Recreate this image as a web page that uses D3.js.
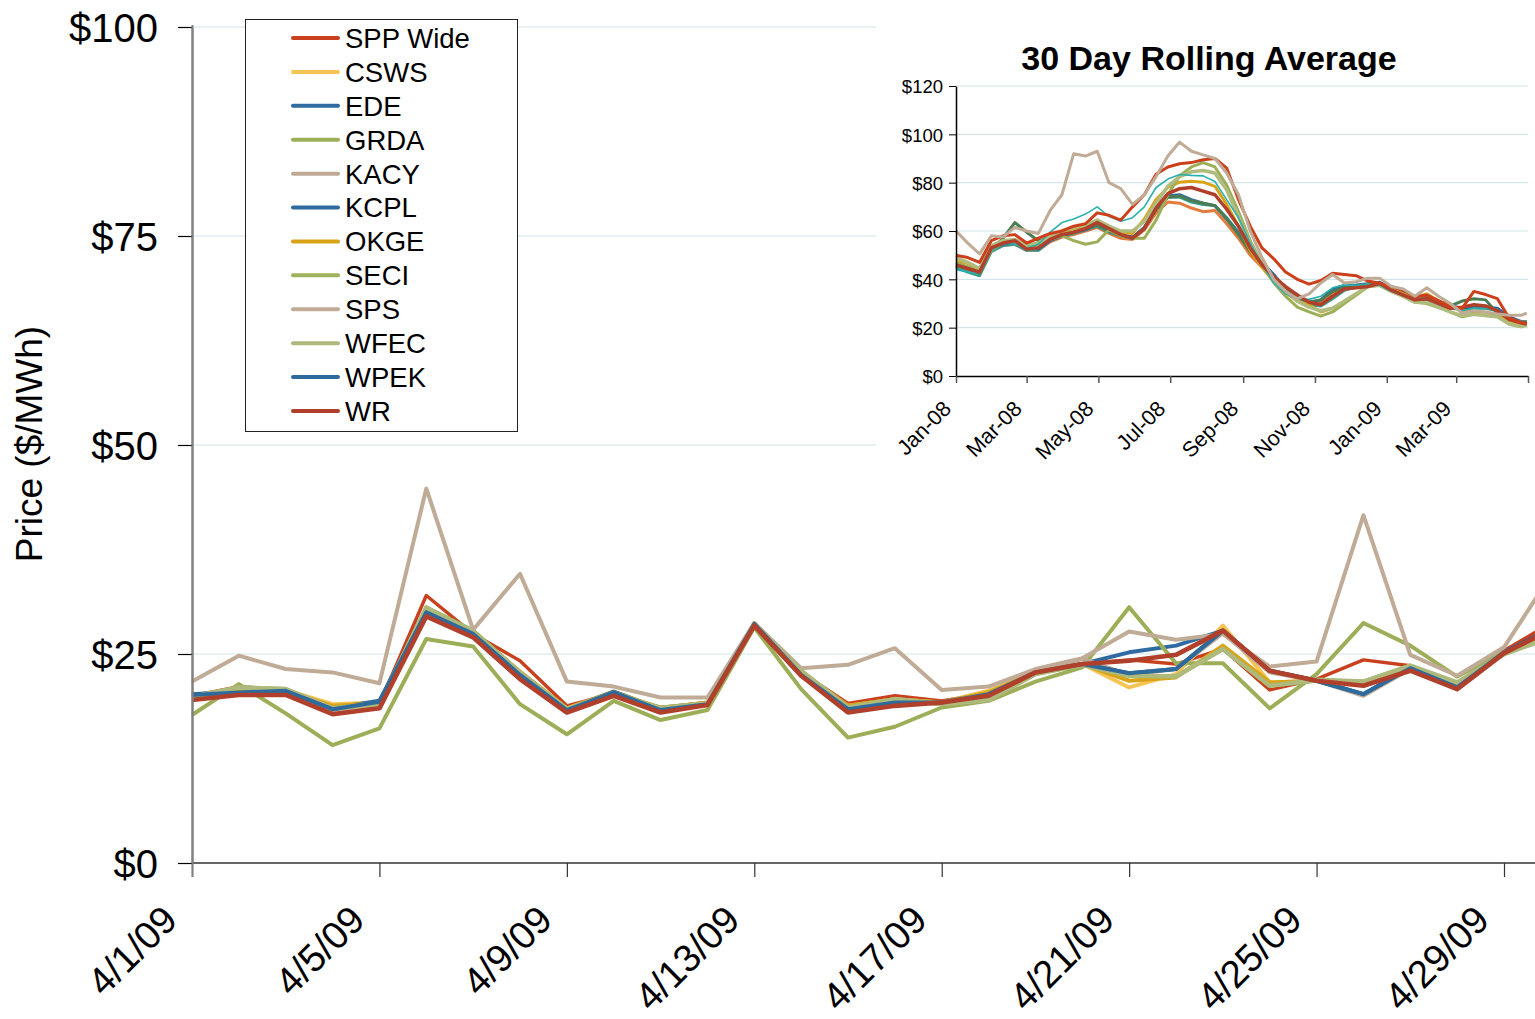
<!DOCTYPE html>
<html><head><meta charset="utf-8">
<script src="https://cdn.jsdelivr.net/npm/d3@7"></script>
<style>
body{margin:0;background:#fff}
svg{display:block}
text{font-family:"Liberation Sans",Arial,Helvetica,sans-serif;fill:#000}
</style>
</head><body>
<svg id="c" width="1535" height="1019"></svg>
<script>
// ---------------- MAIN CHART DATA (April 2009, daily $/MWh) ----------------
const aprilDays = [1,2,3,4,5,6,7,8,9,10,11,12,13,14,15,16,17,18,19,20,21,22,23,24,25,26,27,28,29,30];
const seriesNames = ["SPP Wide","CSWS","EDE","GRDA","KACY","KCPL","OKGE","SECI","SPS","WFEC","WPEK","WR"];
const seriesColors = ["#c8401d","#f6c453","#2f6ba0","#9cae57","#bda994","#2e6a9d","#d9a318","#a0b15c","#bfab96","#aeba7c","#2f6a9c","#b0402b"];
const sppWide = [20.0,21.1,20.7,18.4,19.0,32.0,27.4,24.2,18.8,20.3,18.6,19.2,28.6,22.8,19.1,20.0,19.4,20.3,22.9,23.8,24.3,23.8,25.6,20.7,22.0,24.3,23.6,21.0,25.4,28.7];
const csws    = [19.9,20.9,20.7,19.0,19.2,30.0,27.6,22.8,18.5,20.5,18.5,19.2,28.7,22.8,18.8,19.6,19.2,20.6,22.8,23.8,21.0,22.6,28.4,21.6,21.8,21.4,23.4,21.1,25.2,27.5];
const ede     = [20.2,20.5,20.6,18.5,19.4,30.2,27.5,22.6,18.4,20.5,18.4,19.1,28.6,22.6,18.5,19.4,19.2,20.3,22.8,23.8,25.2,26.0,27.8,23.0,21.8,20.2,23.4,21.0,25.2,28.0];
const grda    = [17.7,21.4,17.9,14.1,16.1,26.8,25.9,19.0,15.4,19.4,17.1,18.3,28.2,20.8,15.0,16.3,18.6,19.4,21.7,23.4,30.6,23.9,23.9,18.5,22.6,28.7,26.0,22.3,25.2,27.0];
const kacy    = [19.6,20.4,20.5,18.0,18.8,30.0,27.2,22.2,18.1,20.1,18.2,19.0,28.5,22.5,18.3,19.1,19.2,20.0,23.0,24.4,22.5,23.2,27.5,22.8,21.8,20.0,23.2,20.8,25.0,27.6];
const kcpl    = [20.1,20.5,20.6,18.4,19.3,30.1,27.4,22.5,18.3,20.4,18.3,19.0,28.6,22.6,18.4,19.3,19.2,20.3,22.8,23.8,22.7,23.2,27.8,23.0,21.8,20.2,23.4,21.0,25.2,28.0];
const okge    = [19.9,20.8,20.6,18.8,19.1,30.0,27.6,22.9,18.5,20.4,18.5,19.2,28.7,22.9,18.8,19.6,19.2,20.4,22.8,23.8,21.8,22.2,26.0,21.6,21.8,21.4,23.4,21.1,25.2,27.5];
const seci    = [19.8,21.0,20.8,18.5,19.0,30.6,27.8,22.8,18.4,20.3,18.6,19.1,28.5,23.0,18.6,19.6,19.0,19.5,22.6,23.7,22.4,22.3,25.6,21.2,21.8,21.7,23.6,21.5,25.0,27.0];
const sps     = [21.7,24.8,23.2,22.8,21.5,44.8,27.9,34.6,21.7,21.1,19.8,19.8,28.7,23.3,23.7,25.7,20.7,21.1,23.2,24.5,27.7,26.7,27.4,23.5,24.1,41.6,24.9,22.4,25.8,34.4];
const wfec    = [19.9,21.0,20.8,18.5,19.0,30.5,27.6,22.8,18.4,20.3,18.5,19.1,28.5,23.0,18.6,19.6,19.0,19.5,22.6,23.7,22.4,22.3,25.6,21.2,21.9,21.7,23.6,21.6,25.0,27.0];
const wpek    = [20.1,20.4,20.6,18.4,19.3,30.0,27.4,22.5,18.3,20.4,18.3,19.0,28.6,22.5,18.4,19.2,19.2,20.2,22.8,23.8,22.7,23.2,27.8,23.0,21.8,20.2,23.3,21.0,25.2,28.0];
const wr      = [19.5,20.1,20.1,17.8,18.5,29.5,27.0,22.0,18.0,20.0,18.0,18.9,28.4,22.4,18.0,18.8,19.2,20.0,22.8,23.8,24.2,24.9,27.8,23.0,21.8,21.2,23.0,20.8,25.1,27.9];
const seriesValues = [sppWide,csws,ede,grda,kacy,kcpl,okge,seci,sps,wfec,wpek,wr];
const mainYTicks = [0,25,50,75,100];
const mainXTickDays = [1,5,9,13,17,21,25,29];
const mainXTickLabels = ["4/1/09","4/5/09","4/9/09","4/13/09","4/17/09","4/21/09","4/25/09","4/29/09"];

// ---------------- INSET DATA (30 day rolling average, sampled every 10 days) ----------------
const rollDates = ["2008-01-01","2008-01-11","2008-01-21","2008-01-31","2008-02-10","2008-02-20","2008-03-01","2008-03-11","2008-03-21","2008-03-31",
"2008-04-10","2008-04-20","2008-04-30","2008-05-10","2008-05-20","2008-05-30","2008-06-09","2008-06-19","2008-06-29","2008-07-09",
"2008-07-19","2008-07-29","2008-08-08","2008-08-18","2008-08-28","2008-09-07","2008-09-17","2008-09-27","2008-10-07","2008-10-17",
"2008-10-27","2008-11-06","2008-11-16","2008-11-26","2008-12-06","2008-12-16","2008-12-26","2009-01-05","2009-01-15","2009-01-25",
"2009-02-04","2009-02-14","2009-02-24","2009-03-06","2009-03-16","2009-03-26","2009-04-05","2009-04-15","2009-04-25","2009-04-30"];
const rollOrange = [45.5,44,42,52,54,54.5,52,52,55.5,57.5,58.5,60,61.5,59,57,56.5,60.5,67.5,72,71.5,69.5,68,68.5,63,57,50,45,40,35,31.5,29.5,30.5,34.5,36.5,37,37.5,38,35.5,33.5,31.5,32,30,28.5,27.5,28.5,28,27.5,23.5,22,21.8];
const rollSeaGreen = [45,43,41.5,51.5,54,54.5,52,52,56,58,59,60.5,62,59.5,58,57,61.5,69,74,74,72,71,70.5,65.5,59.5,52.5,47,41.5,35.5,31,29.5,29,32,35.5,37,37.5,38.4,35.5,33.5,31,31.5,29.5,28,27.5,28,28,27,23,22,22];
const rollBlue = [46.5,45,43.5,52.5,54.5,55,53,52.5,56,58,59.5,60.5,62.5,60,58.5,57.5,61.5,69,74.5,75,73,71.5,70.5,65,59,52,47,42,36,32.5,30.5,31.5,36,37.5,37.7,38.2,38.8,36.5,34.5,32.8,33,31,29.4,27.8,29,28.4,28,24.5,22.6,22.3];
const rollDarkGreen = [46,44.5,42.5,52.5,57,63.5,59.5,56,57,58.5,59.5,61,62.5,60,58,57,61,69,74,74.5,72.5,71.5,70.5,65,58.5,51.5,46,41,35.5,32,30.5,31.5,35,36.5,37,38,38.4,36,34,32,32.5,30.5,29,31,32,31.5,26,23.5,22.5,22.3];
const rollGold = [48,46.5,44,53.5,56,56,53.5,54.5,57.5,59.5,61,62,64,61.5,59.5,59,65,73,78,80.2,80.6,80.2,78.5,71,62,52,45,39,34.5,31,29.5,26.5,28,30.5,33.5,37,38,36,34,32.5,34,31,29,27,26.5,26.4,25.3,23,21.5,21.5];
const rollOlive = [47,45,43,52,55,55.5,53,54,56.5,58,56,54.5,55.5,60.5,58,57,57,64.5,75,82.8,86.5,88.3,86.5,79,68,56,46.5,38.6,33,28.5,26.5,24.8,26.5,30,33.5,37,37.5,35,33,30.5,30,28.3,26.5,24.5,25.5,25,24.5,21.5,20.4,21.2];
const rollLightOlive = [49,47,44.5,54,56,56.5,54,55,58,60,61.5,62.5,64.5,62,60,60,64,71.5,78.5,82.5,84.5,85,84,77,66,55,46.5,39.5,35,31,28.5,27,28,31,34,37,37.5,35,33,30.5,30.5,28.5,26.5,25,25.5,25,24.5,21.5,20.5,21];
const rollTeal = [44,43,42.5,52,55,54.5,53,54.5,59.5,63.5,65,67,70,66,64,65.5,70,78,81.5,83.4,83,82.8,80.5,73,65.5,55,46,38.5,34,32,31.7,33,36.5,37.7,37.5,38,37.5,35,33.5,32,32.5,30.5,28.5,27,28,28,27.5,23.5,22.5,22];
const rollBrick = [46,44.5,43,53,55,56,52.5,53,56.5,58.5,59.5,61,63.5,61,58.5,57,61,69.5,75.5,77.5,78,76.5,75,69,62,53,46,41,37,33.5,30.5,29.5,33,36,36.5,37,38.4,35.5,33.5,31.5,32,30,28,28.5,29.5,29,27,23.5,22,21.5];
const rollRed = [50,49,47,56,58,58.5,55,57,59,60,62,63,67.5,66.5,64.5,70,75,83.5,86.5,87.8,88.3,89.5,90,86,73,62,53,48.5,43,40,38,39.5,42.5,42,41.5,39.3,38.4,37,35.5,32.8,33.5,31.2,28.5,28,35,33.7,32,24,22.2,21.7];
const rollTan = [60,55,50.5,58,57.5,61.5,60,59,68.5,75,92,91,93,80,77.5,71,75,82.5,91,96.8,93,91.5,90,84,75,60,49,40,35,32,34,38.5,42,38.5,39,40.5,40.5,37,36,33,36.5,33,30,26,27,26.5,25.7,25.1,25.1,26];
const rollSeries = [rollOrange,rollSeaGreen,rollBlue,rollDarkGreen,rollGold,rollOlive,rollLightOlive,rollTeal,rollBrick,rollRed,rollTan];
const rollColors = ["#e27b3c","#3d9e8e","#2f6ba0","#4a7d52","#d9a318","#9cae57","#afbc7e","#2bb0ad","#b0402b","#cc3f1a","#bfab96"];
const rollWidths = [3,3,3,3,3,3,3.5,1.6,3.5,3,3];
const insetYTicks = [0,20,40,60,80,100,120];
const insetXTickDates = ["2008-01-01","2008-03-01","2008-05-01","2008-07-01","2008-09-01","2008-11-01","2009-01-01","2009-03-01","2009-05-01"];
const insetXTickLabels = ["Jan-08","Mar-08","May-08","Jul-08","Sep-08","Nov-08","Jan-09","Mar-09",""];

// ---------------- DRAW ----------------
const svg = d3.select("#c");
const parse = d3.timeParse("%Y-%m-%d");
const gridColor = "#d3e5e8";

// main scales
const x = d3.scaleTime().domain([new Date(2009,3,1), new Date(2009,3,29)]).range([192,1504]);
const y = d3.scaleLinear().domain([0,100]).range([863,27]);

// gridlines
svg.append("g").selectAll("line").data(mainYTicks.filter(d=>d>0)).join("line")
  .attr("x1",192).attr("x2",1535).attr("y1",d=>y(d)).attr("y2",d=>y(d))
  .attr("stroke",gridColor).attr("stroke-width",1);

// inset white panel (covers gridlines)
svg.append("rect").attr("x",876).attr("y",18).attr("width",660).attr("height",455).attr("fill","#fff");

// main lines
const line = d3.line().x((d,i)=>x(new Date(2009,3,aprilDays[i]))).y(d=>y(d));
svg.append("g").selectAll("path").data(seriesValues).join("path")
  .attr("d",d=>line(d)).attr("fill","none")
  .attr("stroke",(d,i)=>seriesColors[i])
  .attr("stroke-width",(d,i)=> i===0?3.4:(i===11?4.6:(i===9?4.6:4)))
  .attr("stroke-linejoin","round");

// y axis
const yAxis = svg.append("g").attr("transform","translate(192,0)")
  .call(d3.axisLeft(y).tickValues(mainYTicks).tickSize(14).tickSizeOuter(0).tickPadding(20).tickFormat(d=>"$"+d));
yAxis.select(".domain").attr("stroke","#808080").attr("stroke-width",2);
yAxis.selectAll(".tick line").attr("stroke","#000").attr("stroke-width",1.2);
yAxis.selectAll(".tick text").attr("font-size",40).attr("dy","0.36em");

// x axis
svg.append("line").attr("x1",192).attr("x2",1535).attr("y1",863).attr("y2",863).attr("stroke","#333").attr("stroke-width",1.5);
const xAxis = svg.append("g").attr("transform","translate(0,863)")
  .call(d3.axisBottom(x).tickValues(mainXTickDays.map(d=>new Date(2009,3,d))).tickSize(14).tickSizeOuter(0)
    .tickFormat((d,i)=>mainXTickLabels[i]));
xAxis.select(".domain").remove();
xAxis.selectAll(".tick line").attr("stroke","#333").attr("stroke-width",1.2);
xAxis.selectAll(".tick text").attr("font-size",38.5).attr("x",0).attr("y",0).attr("dy",0)
  .attr("text-anchor","end").attr("transform","translate(-13,59) rotate(-45)");
// re-draw y domain on top of x axis line
svg.append("line").attr("x1",192.5).attr("x2",192.5).attr("y1",25).attr("y2",877).attr("stroke","#808080").attr("stroke-width",2);

// y title
svg.append("text").attr("transform","translate(42,444) rotate(-90)").attr("text-anchor","middle")
  .attr("font-size",37).text("Price ($/MWh)");

// legend
const lg = svg.append("g");
lg.append("rect").attr("x",245.5).attr("y",19.5).attr("width",272).attr("height",412)
  .attr("fill","#fff").attr("stroke","#222").attr("stroke-width",1);
const rowY = d3.scaleLinear().domain([0,11]).range([38,411]);
seriesNames.forEach((n,i)=>{
  lg.append("line").attr("x1",293).attr("x2",338).attr("y1",rowY(i)).attr("y2",rowY(i))
    .attr("stroke",seriesColors[i]).attr("stroke-width",4).attr("stroke-linecap","round");
  lg.append("text").attr("x",345).attr("y",rowY(i)).attr("dy","0.36em").attr("font-size",27.5).text(n);
});

// ---------------- INSET ----------------
const ix = d3.scaleTime().domain([parse("2008-01-01"), parse("2009-05-01")]).range([956,1528]);
const iy = d3.scaleLinear().domain([0,120]).range([376,86]);
const ig = svg.append("g");
ig.append("text").attr("x",1209).attr("y",70).attr("text-anchor","middle").attr("font-size",34)
  .attr("font-weight","bold").text("30 Day Rolling Average");
ig.append("g").selectAll("line").data(insetYTicks.filter(d=>d>0)).join("line")
  .attr("x1",956).attr("x2",1528).attr("y1",d=>iy(d)).attr("y2",d=>iy(d))
  .attr("stroke",gridColor).attr("stroke-width",1.2);
const iline = d3.line().x((d,i)=>ix(parse(rollDates[i]))).y(d=>iy(d));
ig.append("g").selectAll("path").data(rollSeries).join("path")
  .attr("d",d=>iline(d)).attr("fill","none")
  .attr("stroke",(d,i)=>rollColors[i]).attr("stroke-width",(d,i)=>rollWidths[i])
  .attr("stroke-linejoin","round");
const iyAxis = ig.append("g").attr("transform","translate(956,0)")
  .call(d3.axisLeft(iy).tickValues(insetYTicks).tickSize(7).tickSizeOuter(0).tickPadding(6).tickFormat(d=>"$"+d));
iyAxis.select(".domain").attr("stroke","#000").attr("stroke-width",1.5);
iyAxis.selectAll(".tick line").attr("stroke","#000");
iyAxis.selectAll(".tick text").attr("font-size",18.5).attr("dy","0.36em");
const ixAxis = ig.append("g").attr("transform","translate(0,376)")
  .call(d3.axisBottom(ix).tickValues(insetXTickDates.map(parse)).tickSize(7).tickSizeOuter(0)
    .tickFormat((d,i)=>insetXTickLabels[i]));
ixAxis.select(".domain").attr("stroke","#000").attr("stroke-width",1.5);
ixAxis.selectAll(".tick line").attr("stroke","#555").attr("stroke-width",1.5);
ixAxis.selectAll(".tick text").attr("font-size",21.5).attr("x",0).attr("y",0).attr("dy",0)
  .attr("text-anchor","end").attr("transform","translate(-4,34) rotate(-45)");
</script>
</body></html>
